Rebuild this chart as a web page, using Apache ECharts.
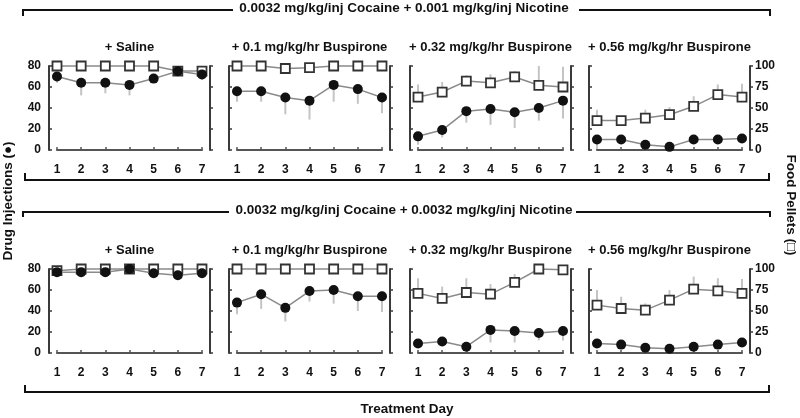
<!DOCTYPE html>
<html>
<head>
<meta charset="utf-8">
<script src="https://cdn.jsdelivr.net/npm/echarts@6/dist/echarts.min.js"></script>
<style>html,body{margin:0;padding:0;background:#fff}#c{width:800px;height:418px}</style>
</head>
<body>
<div id="c"></div>
<script>
// ---- data ----
const days = [1, 2, 3, 4, 5, 6, 7];
const groupTitles = [
  '0.0032 mg/kg/inj Cocaine + 0.001 mg/kg/inj Nicotine',
  '0.0032 mg/kg/inj Cocaine + 0.0032 mg/kg/inj Nicotine'
];
const panelTitles = ['+ Saline', '+ 0.1 mg/kg/hr Buspirone', '+ 0.32 mg/kg/hr Buspirone', '+ 0.56 mg/kg/hr Buspirone'];
const drugTicks = [0, 20, 40, 60, 80];
const foodTicks = [0, 25, 50, 75, 100];

// Row 1 (0.001 nicotine)
const drugRow1 = [
  [70, 64, 64, 62, 68, 75, 72],
  [56, 56, 50, 47, 62, 58, 50],
  [13, 19, 37, 39, 36, 40, 47],
  [10, 10, 5, 3, 10, 10, 11]
];
const drugErrRow1 = [
  [6, 12, 10, 10, 0, 0, 5],
  [10, 10, 16, 18, 16, 14, 15],
  [8, 7, 11, 15, 15, 12, 17],
  [9, 0, 0, 0, 0, 0, 0]
];
const foodRow1 = [
  [100, 100, 100, 100, 100, 94, 94],
  [100, 100, 97, 98, 100, 100, 100],
  [63, 69, 82, 80, 87, 77, 75],
  [35, 35, 38, 42, 52, 66, 63]
];
const foodErrRow1 = [
  [0, 0, 0, 0, 0, 0, 0],
  [0, 0, 0, 0, 0, 0, 0],
  [15, 12, 7, 10, 7, 23, 24],
  [13, 5, 10, 9, 12, 12, 16]
];
// Row 2 (0.0032 nicotine)
const drugRow2 = [
  [77, 77, 77, 80, 76, 74, 76],
  [48, 56, 43, 59, 60, 54, 54],
  [9, 11, 6, 22, 21, 19, 21],
  [9, 8, 5, 4, 6, 8, 10]
];
const drugErrRow2 = [
  [0, 0, 0, 0, 0, 0, 0],
  [11, 14, 13, 10, 13, 14, 15],
  [0, 3, 0, 12, 11, 7, 9],
  [0, 0, 0, 0, 0, 0, 0]
];
const foodRow2 = [
  [98, 100, 100, 100, 100, 100, 100],
  [100, 100, 100, 100, 100, 100, 100],
  [71, 65, 72, 70, 84, 100, 99],
  [57, 53, 51, 63, 76, 74, 71]
];
const foodErrRow2 = [
  [0, 0, 0, 0, 0, 0, 0],
  [0, 0, 0, 0, 0, 0, 0],
  [18, 14, 17, 12, 10, 0, 0],
  [18, 14, 8, 12, 15, 15, 17]
];

// ---- layout ----
const FONT = '"Liberation Sans", Arial, sans-serif';
const panelLefts = [49, 229, 410, 589];
const panelW = 161;
const pad = 8;
const rowTops = [66, 269];
const plotH = 84;
const axisColor = '#3a3a3a';
const textColor = '#111';

const rows = [
  { drug: drugRow1, drugErr: drugErrRow1, food: foodRow1, foodErr: foodErrRow1 },
  { drug: drugRow2, drugErr: drugErrRow2, food: foodRow2, foodErr: foodErrRow2 }
];

const grid = [], xAxis = [], yAxis = [], series = [], graphic = [];

function errSeries(xi, yi, vals, errs, dir) {
  return {
    type: 'custom', xAxisIndex: xi, yAxisIndex: yi, silent: true, z: 1,
    data: days.map((d, j) => [d, vals[j], vals[j] + dir * errs[j]]),
    renderItem: function (params, api) {
      const a = api.coord([api.value(0), api.value(1)]);
      const b = api.coord([api.value(0), api.value(2)]);
      return { type: 'line', shape: { x1: a[0], y1: a[1], x2: b[0], y2: b[1] },
        style: { stroke: '#c4c4c4', lineWidth: 2 } };
    }
  };
}

rows.forEach((row, r) => {
  for (let p = 0; p < 4; p++) {
    const gi = grid.length;
    grid.push({ left: panelLefts[p] + pad, top: rowTops[r], width: panelW - 2 * pad, height: plotH });
    xAxis.push({
      type: 'value', gridIndex: gi, min: 1, max: 7, interval: 1, offset: 7,
      axisLine: { show: true, lineStyle: { color: '#555', width: 2 } },
      axisTick: { show: true, inside: true, length: 3, lineStyle: { color: '#555', width: 1.5 } },
      axisLabel: { fontFamily: FONT, fontWeight: 'bold', fontSize: 12, color: textColor, margin: 7 },
      splitLine: { show: false }
    });
    const yl = yAxis.length;
    yAxis.push({
      type: 'value', gridIndex: gi, position: 'left', offset: pad, min: 0, max: 80, interval: 20,
      axisLine: { show: true, lineStyle: { color: axisColor, width: 2 } },
      axisTick: { show: true, inside: true, length: 3, lineStyle: { color: axisColor, width: 1.5 } },
      axisLabel: { show: p === 0, fontFamily: FONT, fontWeight: 'bold', fontSize: 12, color: textColor, margin: 8 },
      splitLine: { show: false }
    });
    const yr = yAxis.length;
    yAxis.push({
      type: 'value', gridIndex: gi, position: 'right', offset: pad, min: 0, max: 100, interval: 25,
      axisLine: { show: true, lineStyle: { color: axisColor, width: 2 } },
      axisTick: { show: true, inside: false, length: 3, lineStyle: { color: axisColor, width: 1.5 } },
      axisLabel: { show: p === 3, fontFamily: FONT, fontWeight: 'bold', fontSize: 12, color: textColor, margin: 5 },
      splitLine: { show: false }
    });
    series.push(errSeries(gi, yl, row.drug[p], row.drugErr[p], -1));
    series.push(errSeries(gi, yr, row.food[p], row.foodErr[p], 1));
    series.push({
      type: 'line', xAxisIndex: gi, yAxisIndex: yr, clip: false, z: 3,
      data: days.map((d, j) => [d, row.food[p][j]]),
      symbol: 'rect', symbolSize: 9,
      itemStyle: { color: '#fff', borderColor: '#333', borderWidth: 1.8 },
      lineStyle: { color: '#8a8a8a', width: 1.5 }
    });
    series.push({
      type: 'line', xAxisIndex: gi, yAxisIndex: yl, clip: false, z: 4,
      data: days.map((d, j) => [d, row.drug[p][j]]),
      symbol: 'circle', symbolSize: 10,
      itemStyle: { color: '#111', borderColor: '#111', borderWidth: 0 },
      lineStyle: { color: '#8a8a8a', width: 1.5 }
    });
    graphic.push({
      type: 'text', x: panelLefts[p] + panelW / 2, y: rowTops[r] - 19,
      style: { text: panelTitles[p], font: 'bold 13px ' + FONT, fill: textColor, align: 'center', verticalAlign: 'middle' }
    });
  }
});

// group brackets and titles
const topBr = [{ y: 10, tick: 16, gapL: 233, gapR: 579 }, { y: 212, tick: 217, gapL: 229, gapR: 576 }];
const botBr = [{ y: 180, tick: 173 }, { y: 392, tick: 385 }];
const lineStyle = { stroke: '#111', lineWidth: 2, fill: null };
for (let r = 0; r < 2; r++) {
  const t = topBr[r], b = botBr[r];
  graphic.push({ type: 'polyline', shape: { points: [[23, t.tick], [23, t.y], [t.gapL, t.y]] }, style: lineStyle });
  graphic.push({ type: 'polyline', shape: { points: [[t.gapR, t.y], [770, t.y], [770, t.tick]] }, style: lineStyle });
  graphic.push({ type: 'text', x: 404, y: t.y - 2,
    style: { text: groupTitles[r], font: 'bold 13.5px ' + FONT, fill: textColor, align: 'center', verticalAlign: 'middle' } });
  graphic.push({ type: 'polyline', shape: { points: [[25, b.tick], [25, b.y], [769, b.y], [769, b.tick]] }, style: lineStyle });
}
graphic.push({ type: 'text', x: 407, y: 409,
  style: { text: 'Treatment Day', font: 'bold 13.5px ' + FONT, fill: textColor, align: 'center', verticalAlign: 'middle' } });
graphic.push({ type: 'text', x: 8, y: 201, rotation: Math.PI / 2,
  style: { text: 'Drug Injections (●)', font: 'bold 13.5px ' + FONT, fill: textColor, align: 'center', verticalAlign: 'middle' } });
graphic.push({ type: 'text', x: 791, y: 205, rotation: -Math.PI / 2,
  style: { text: 'Food Pellets (□)', font: 'bold 13.5px ' + FONT, fill: textColor, align: 'center', verticalAlign: 'middle' } });

const chart = echarts.init(document.getElementById('c'), null, { renderer: 'canvas' });
chart.setOption({
  animation: false,
  backgroundColor: '#fff',
  grid, xAxis, yAxis, series, graphic
});
</script>
</body>
</html>
